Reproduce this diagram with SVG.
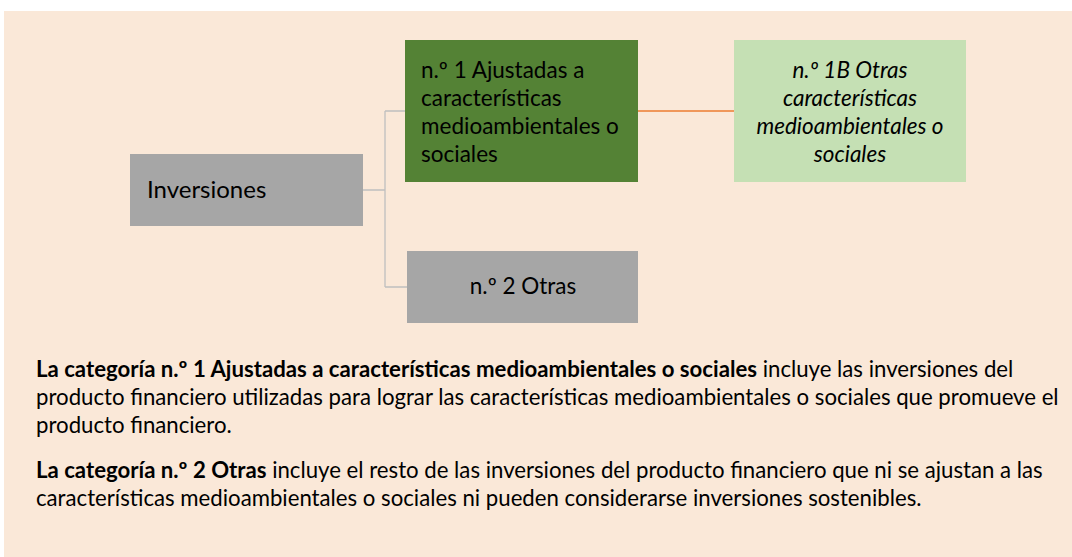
<svg xmlns="http://www.w3.org/2000/svg" width="1072" height="557" viewBox="0 0 1072 557">
<style>
.t{font-family:Lato,"Liberation Sans",sans-serif;fill:#000}
.n{font-size:22.5px}
.p{font-size:22.2px}
.b{font-weight:bold}
.conn{fill:none;stroke:#BFBFBF;stroke-width:1.3}
</style>
<rect x="0" y="0" width="1072" height="557" fill="#fff"/>
<rect x="4" y="11" width="1068" height="546" fill="#FAE8D8"/>
<g id="connectors">
<path class="conn" d="M363 190H385M385 111V287M385 111H405M385 287H407"/>
<path d="M638 111H734" stroke="#ED7D31" stroke-width="1.3" fill="none"/>
</g>
<g id="inversiones">
<rect x="130" y="154" width="233" height="72" fill="#A6A6A6"/>
<text class="t" x="147" y="198" style="font-size:24px">Inversiones</text>
</g>
<g id="n1">
<rect x="405" y="40" width="233" height="142" fill="#548235"/>
<text class="t n"><tspan x="421" y="77.5">n.º 1 Ajustadas a</tspan><tspan x="421" y="105.5">características</tspan><tspan x="421" y="133.5">medioambientales o</tspan><tspan x="421" y="161.5">sociales</tspan></text>
</g>
<g id="n1b">
<rect x="734" y="40" width="232" height="142" fill="#C5E0B4"/>
<text class="t n" text-anchor="middle" font-style="italic"><tspan x="850" y="77.5">n.º 1B Otras</tspan><tspan x="850" y="105.5">características</tspan><tspan x="850" y="133.5">medioambientales o</tspan><tspan x="850" y="161.5">sociales</tspan></text>
</g>
<g id="n2">
<rect x="407" y="251" width="231" height="72" fill="#A6A6A6"/>
<text class="t n" x="523" y="294" text-anchor="middle">n.º 2 Otras</text>
</g>
<g id="notes">
<text class="t p"><tspan x="36" y="377"><tspan class="b">La categoría n.º 1 Ajustadas a características medioambientales o sociales</tspan> incluye las inversiones del</tspan><tspan x="36" y="405">producto financiero utilizadas para lograr las características medioambientales o sociales que promueve el</tspan><tspan x="36" y="433">producto financiero.</tspan></text>
<text class="t p"><tspan x="36" y="478"><tspan class="b">La categoría n.º 2 Otras</tspan> incluye el resto de las inversiones del producto financiero que ni se ajustan a las</tspan><tspan x="36" y="506">características medioambientales o sociales ni pueden considerarse inversiones sostenibles.</tspan></text>
</g>
</svg>
